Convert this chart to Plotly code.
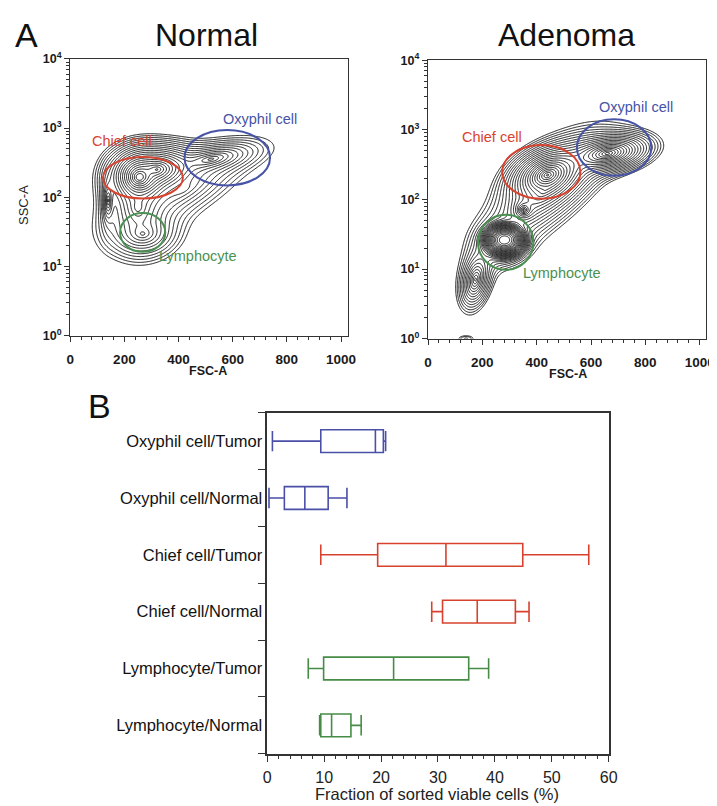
import numpy as np
import plotly.graph_objects as go

# ---------------- Panel A data ----------------
fsc_tickvals = [0, 200, 400, 600, 800, 1000]
fsc_minor = [v for v in range(0, 1025, 40)]
ssc_tickvals = [1, 10, 100, 1000, 10000]
ssc_ticktext = ["10<sup>0</sup>", "10<sup>1</sup>", "10<sup>2</sup>", "10<sup>3</sup>", "10<sup>4</sup>"]
ssc_minor = [m * 10 ** d for d in range(0, 4) for m in range(2, 10)]

# cell populations estimated from the contour picture
# (FSC centre, log10 SSC centre, FSC spread, log10 SSC spread, correlation, peak weight, peak shape)
normal_fsc_mean = [256, 320, 520, 268, 250, 140, 420]
normal_ssc_logmean = [2.29, 2.40, 2.55, 1.47, 1.85, 1.95, 2.10]
normal_fsc_sd = [24, 38, 60, 45, 40, 8, 110]
normal_ssc_logsd = [0.09, 0.09, 0.085, 0.12, 0.20, 0.12, 0.28]
normal_rho = [0.0, 0.1, 0.5, 0.0, 0.0, 0.0, 0.7]
normal_weight = [1.0, 0.5, 0.08, 0.05, 0.08, 0.08, 0.02]
normal_shape = [1, 1, 1, 1, 1, 1, 1]

adenoma_fsc_mean = [282, 275, 440, 660, 352, 430, 175, 140]
adenoma_ssc_logmean = [1.42, 1.38, 2.35, 2.66, 1.85, 2.12, 0.85, 0.00]
adenoma_fsc_sd = [28, 30, 35, 45, 12, 80, 22, 25]
adenoma_ssc_logsd = [0.085, 0.10, 0.10, 0.08, 0.045, 0.30, 0.16, 0.04]
adenoma_rho = [0.0, 0.0, 0.3, 0.3, 0.0, 0.7, 0.3, 0.0]
adenoma_weight = [1.0, 0.07, 0.45, 0.25, 0.1, 0.06, 0.06, 0.004]
adenoma_shape = [2, 1, 1, 1, 1, 1, 1, 2]

gate_names = ["Chief cell", "Oxyphil cell", "Lymphocyte"]
gate_colors = ["#d8432f", "#4653a6", "#4a9151"]
normal_gate_x0 = [121, 422, 184]
normal_gate_x1 = [416, 738, 351]
normal_gate_u0 = [1.98, 2.17, 1.21]
normal_gate_u1 = [2.58, 2.97, 1.77]
normal_label_x = [190, 701, 473]
normal_label_u = [2.81, 3.13, 1.15]
adenoma_gate_x0 = [273, 548, 184]
adenoma_gate_x1 = [561, 822, 388]
adenoma_gate_u0 = [2.01, 2.34, 0.99]
adenoma_gate_u1 = [2.78, 3.15, 1.78]
adenoma_label_x = [236, 765, 492]
adenoma_label_u = [2.89, 3.32, 0.95]

# ---------------- Panel B data ----------------
groups = ["Oxyphil cell/Tumor", "Oxyphil cell/Normal", "Chief cell/Tumor",
          "Chief cell/Normal", "Lymphocyte/Tumor", "Lymphocyte/Normal"]
group_colors = ["#4a4fa8", "#4a4fa8", "#d8412e", "#d8412e", "#468c46", "#468c46"]
low_whisker = [0.9, 0.3, 9.4, 28.9, 7.2, 9.2]
q1 = [9.4, 3.0, 19.4, 30.8, 9.9, 9.4]
median = [19.0, 6.6, 31.4, 36.9, 22.2, 11.3]
q3 = [20.4, 10.7, 44.9, 43.6, 35.4, 14.7]
high_whisker = [20.8, 14.0, 56.5, 46.0, 38.9, 16.5]

# ---------------- figure ----------------
W, H = 717, 806


def px(x):
    return x / W


def py(y):
    return 1 - y / H


fig = go.Figure()

xg = np.linspace(0, 1024, 340)
ug = np.linspace(0, 4, 340)
XX, UU = np.meshgrid(xg, ug)


def density(mx, mu, sx, su, rho, w, shape):
    tot = np.zeros_like(XX)
    for a, b, c, d, r, ww, p in zip(mx, mu, sx, su, rho, w, shape):
        dx = (XX - a) / c
        du = (UU - b) / d
        q = (dx * dx - 2 * r * dx * du + du * du) / (1 - r * r)
        tot += ww * np.exp(-(q ** (p / 2.0)) / p)
    tot = tot / tot.max()
    return np.log10(tot + 1e-12)


zn = density(normal_fsc_mean, normal_ssc_logmean, normal_fsc_sd, normal_ssc_logsd,
             normal_rho, normal_weight, normal_shape)
za = density(adenoma_fsc_mean, adenoma_ssc_logmean, adenoma_fsc_sd, adenoma_ssc_logsd,
             adenoma_rho, adenoma_weight, adenoma_shape)

for z, xa, ya, step in [(zn, "x", "y", 0.12), (za, "x2", "y2", 0.1)]:
    fig.add_trace(go.Contour(
        x=xg, y=10 ** ug, z=z, xaxis=xa, yaxis=ya,
        contours=dict(coloring="lines", start=-2.6, end=-0.1, size=step),
        colorscale=[[0, "#1a1a1a"], [1, "#1a1a1a"]], showscale=False,
        line=dict(width=1.0), hoverinfo="skip"))

for i, g in enumerate(groups):
    fig.add_trace(go.Box(
        y=[g], q1=[q1[i]], median=[median[i]], q3=[q3[i]],
        lowerfence=[low_whisker[i]], upperfence=[high_whisker[i]],
        orientation="h", xaxis="x3", yaxis="y3",
        line=dict(color=group_colors[i], width=1.6), fillcolor="rgba(255,255,255,0)",
        whiskerwidth=0.9, width=0.4, showlegend=False, hoverinfo="skip"))

sans = "Liberation Sans, Arial, sans-serif"
xfont = dict(family=sans, size=13.5, color="#1a1a1a", weight="bold")
yfont = dict(family=sans, size=12.5, color="#1a1a1a", weight="bold")
common_x = dict(range=[0, 1024], tickvals=fsc_tickvals, ticks="outside", ticklen=5, tickwidth=1.2,
                showline=True, linecolor="#333", linewidth=1.4, mirror=True, showgrid=False,
                zeroline=False, tickfont=xfont, tickcolor="#333", ticklabelstandoff=6,
                minor=dict(tickvals=fsc_minor, ticks="outside", ticklen=3, tickcolor="#333"))
common_y = dict(type="log", range=[0, 4], tickvals=ssc_tickvals, ticktext=ssc_ticktext,
                ticks="outside", ticklen=5, tickwidth=1.2, showline=True, linecolor="#333",
                linewidth=1.4, mirror=True, showgrid=False, zeroline=False, tickfont=yfont,
                tickcolor="#333",
                minor=dict(tickvals=ssc_minor, ticks="outside", ticklen=3, tickcolor="#333"))

fig.update_layout(
    width=W, height=H, margin=dict(l=0, r=0, t=0, b=0),
    paper_bgcolor="white", plot_bgcolor="white", showlegend=False, boxmode="overlay",
    xaxis=dict(domain=[px(59.3), px(341.7)], anchor="y", **common_x),
    yaxis=dict(domain=[py(325), py(42.7)], anchor="x", **common_y),
    xaxis2=dict(domain=[px(423.7), px(707)], anchor="y2", **common_x),
    yaxis2=dict(domain=[py(328.3), py(44)], anchor="x2", **common_y),
    xaxis3=dict(domain=[px(260), px(607.7)], anchor="y3", range=[0, 60], dtick=10,
                ticks="outside", ticklen=6, tickwidth=1.2, tickcolor="#333",
                showline=True, linecolor="#333", linewidth=1.5, mirror=True,
                showgrid=False, zeroline=False, ticklabelstandoff=2,
                tickfont=dict(family=sans, size=16, color="#222"),
                minor=dict(dtick=2, ticks="outside", ticklen=3, tickcolor="#333")),
    yaxis3=dict(domain=[py(751.7), py(403.7)], anchor="x3", type="category",
                categoryorder="array", categoryarray=groups[::-1], tickson="boundaries",
                ticks="outside", ticklen=8, tickwidth=1.2, tickcolor="#333",
                showline=True, linecolor="#333", linewidth=1.5, mirror=True,
                showgrid=False, zeroline=False, range=[-0.5, 5.5],
                tickfont=dict(family=sans, size=16.5, color="#111")),
)

shapes = []
annotations = []
for xref, yref, gx0, gx1, gu0, gu1, lx, lu in [
        ("x", "y", normal_gate_x0, normal_gate_x1, normal_gate_u0, normal_gate_u1, normal_label_x, normal_label_u),
        ("x2", "y2", adenoma_gate_x0, adenoma_gate_x1, adenoma_gate_u0, adenoma_gate_u1, adenoma_label_x, adenoma_label_u)]:
    for i in range(3):
        shapes.append(dict(type="circle", xref=xref, yref=yref, x0=gx0[i], x1=gx1[i],
                           y0=10 ** gu0[i], y1=10 ** gu1[i],
                           line=dict(color=gate_colors[i], width=2)))
        annotations.append(dict(xref=xref, yref=yref, x=lx[i], y=lu[i], text=gate_names[i], showarrow=False,
                                font=dict(family=sans, size=14.5, color=gate_colors[i])))

for text, x, y, size in [("A", 15, 18, 34), ("Normal", 198, 18, 32), ("Adenoma", 565, 18, 32), ("B", 89, 397, 34)]:
    annotations.append(dict(xref="paper", yref="paper", x=px(x), y=py(y), text=text, showarrow=False,
                            xanchor="center", yanchor="middle", font=dict(family=sans, size=size, color="#111")))
for text, x, y in [("FSC-A", 200, 361), ("FSC-A", 566, 364)]:
    annotations.append(dict(xref="paper", yref="paper", x=px(x), y=py(y), text=text, showarrow=False,
                            xanchor="center", yanchor="middle",
                            font=dict(family=sans, size=12.5, color="#1a1a1a", weight="bold")))
annotations.append(dict(xref="paper", yref="paper", x=px(11), y=py(192), text="SSC-A", showarrow=False,
                        textangle=-90, xanchor="center", yanchor="middle",
                        font=dict(family=sans, size=13, color="#222")))
annotations.append(dict(xref="paper", yref="paper", x=px(433), y=py(793),
                        text="Fraction of sorted viable cells (%)", showarrow=False,
                        xanchor="center", yanchor="middle",
                        font=dict(family=sans, size=16.5, color="#222")))

fig.update_layout(shapes=shapes, annotations=annotations)
fig.write_html("out.html")
